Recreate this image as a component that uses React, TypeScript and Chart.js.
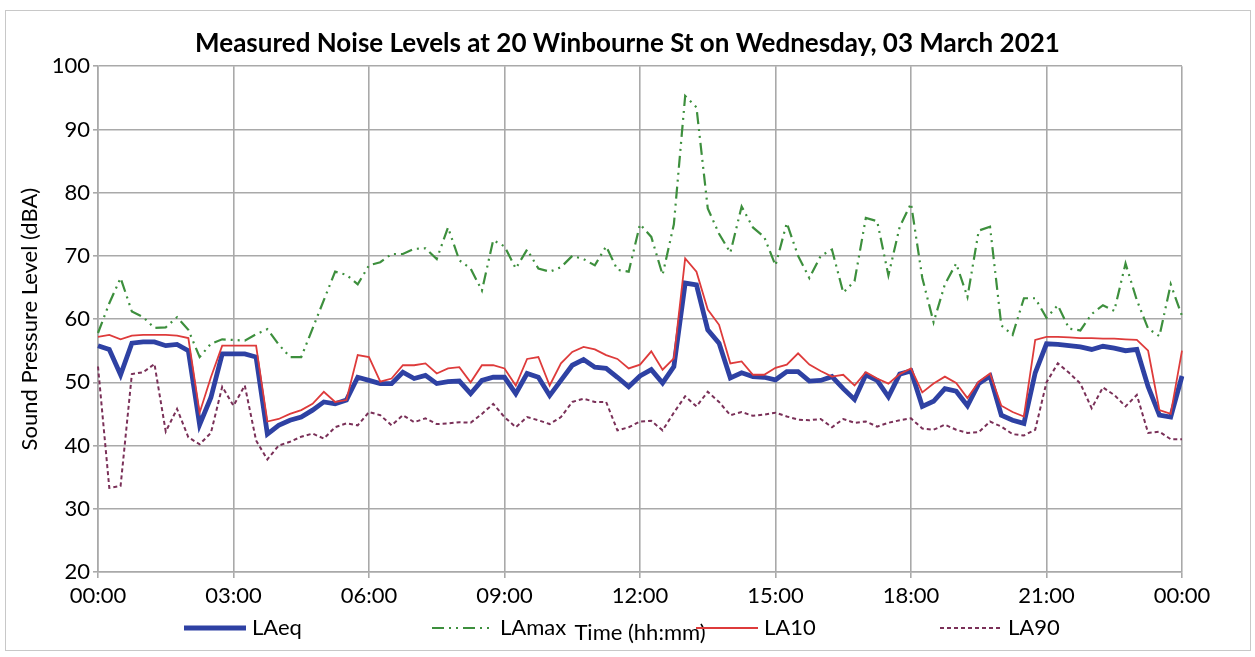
import React, { useEffect, useRef } from "react";
import { Chart, registerables } from "chart.js";

Chart.register(...registerables);

// 15-minute intervals across the day (97 samples, 00:00 .. 00:00)
const TIMES: string[] = [];
for (let i = 0; i <= 96; i++) {
  const m = i * 15;
  const h = Math.floor(m / 60) % 24;
  const mm = m % 60;
  TIMES.push(String(h).padStart(2, "0") + ":" + String(mm).padStart(2, "0"));
}

const TICK_LABELS = ["00:00", "03:00", "06:00", "09:00", "12:00", "15:00", "18:00", "21:00", "00:00"];
const Y_TICKS = [20, 30, 40, 50, 60, 70, 80, 90, 100];

const LAEQ = [
  55.8, 55.2, 51.2, 56.2, 56.4, 56.4, 55.8, 56.0, 55.0, 43.3, 47.6, 54.5, 54.5, 54.5, 54.0, 41.8,
  43.2, 44.0, 44.5, 45.6, 46.9, 46.6, 47.2, 50.8, 50.3, 49.8, 49.8, 51.6, 50.6, 51.1, 49.8, 50.1,
  50.2, 48.2, 50.3, 50.8, 50.8, 48.2, 51.4, 50.8, 47.9, 50.3, 52.7, 53.6, 52.4, 52.2, 50.8, 49.3,
  51.0, 52.0, 49.9, 52.5, 65.7, 65.4, 58.3, 56.2, 50.7, 51.5, 50.9, 50.8, 50.4, 51.7, 51.7, 50.2,
  50.3, 50.9, 49.0, 47.3, 51.2, 50.3, 47.7, 51.3, 51.8, 46.2, 47.0, 49.0, 48.6, 46.3, 49.8, 51.0,
  44.8, 44.0, 43.5, 51.5, 56.1, 56.0, 55.8, 55.6, 55.2, 55.7, 55.4, 55.0, 55.2, 49.3, 44.8, 44.5,
  51.0,
];

const LAMAX = [
  57.8, 62.5, 66.5, 61.2, 60.3, 58.6, 58.7, 60.3, 58.3, 54.0, 56.1, 56.8, 56.7, 56.6, 57.6, 58.4,
  56.0, 54.0, 54.0, 58.5, 63.0, 67.5, 67.0, 65.5, 68.5, 69.0, 70.3, 70.3, 71.1, 71.2, 69.5, 74.5,
  69.3, 68.0, 64.5, 72.5, 71.5, 68.0, 71.0, 68.0, 67.5, 68.2, 70.0, 69.5, 68.5, 71.5, 67.8, 67.5,
  75.0, 73.0, 67.0, 75.0, 95.3, 93.5, 77.5, 73.5, 70.5, 77.8, 74.5, 73.0, 68.5, 75.2, 70.0, 66.5,
  70.0, 71.0, 64.2, 66.0, 76.0, 75.5, 66.9, 74.6, 78.3, 66.5, 59.5, 65.5, 68.8, 63.5, 74.0, 74.6,
  59.0, 57.5, 63.3, 63.3, 60.2, 62.2, 58.5, 58.2, 60.8, 62.2, 61.3, 68.8, 63.0, 58.5, 57.3, 65.5,
  60.5,
];

const LA10 = [
  57.2, 57.5, 56.8, 57.4, 57.5, 57.5, 57.5, 57.4, 57.0, 45.2, 50.8, 55.8, 55.8, 55.8, 55.8, 43.8,
  44.2, 45.0, 45.6, 46.6, 48.5, 46.9, 47.2, 54.3, 54.0, 50.1, 50.6, 52.7, 52.7, 53.0, 51.4, 52.2,
  52.4, 50.0, 52.7, 52.7, 52.2, 49.5, 53.7, 54.0, 49.5, 53.0, 54.8, 55.6, 55.2, 54.3, 53.7, 52.2,
  52.8, 54.9, 52.0, 53.8, 69.6, 67.5, 61.5, 59.1, 53.0, 53.3, 51.2, 51.2, 52.3, 52.8, 54.6, 52.8,
  51.8, 50.9, 51.2, 49.5, 51.6, 50.6, 49.8, 51.3, 52.2, 48.4, 49.8, 50.9, 49.9, 47.5, 50.1, 51.4,
  46.3, 45.3, 44.6, 56.7, 57.2, 57.2, 57.1, 57.0, 57.0, 56.9, 56.9, 56.8, 56.7, 55.0, 45.6, 45.0,
  55.0,
];

const LA90 = [
  52.5, 33.3, 33.6, 51.3, 51.6, 52.9, 42.2, 45.8, 41.3, 40.2, 42.0, 49.3, 46.3, 49.5, 40.8, 37.8,
  40.0, 40.6, 41.4, 41.9, 41.1, 42.9, 43.5, 43.2, 45.3, 44.8, 43.2, 44.8, 43.7, 44.3, 43.4, 43.5,
  43.7, 43.6, 45.0, 46.6, 44.5, 42.9, 44.5, 44.0, 43.4, 44.5, 46.9, 47.4, 46.9, 46.9, 42.4, 42.9,
  43.8, 43.9, 42.4, 45.2, 47.8, 46.2, 48.5, 46.9, 44.8, 45.3, 44.7, 44.9, 45.2, 44.6, 44.1, 44.0,
  44.2, 42.9, 44.2, 43.6, 43.8, 43.0, 43.6, 44.0, 44.3, 42.7, 42.5, 43.3, 42.5, 42.0, 42.1, 43.8,
  43.0, 41.8, 41.6, 42.5, 50.0, 53.0, 51.5, 49.8, 45.9, 49.2, 48.0, 46.2, 48.0, 42.0, 42.2, 41.0,
  41.0,
];

const FONT = "Lato, 'Open Sans', sans-serif";
const GRID = "#a9a9a9";

const legendPlugin = {
  id: "bottomLegend",
  afterDraw(chart: any) {
    const ctx = chart.ctx as CanvasRenderingContext2D;
    const xs = [184, 432, 696, 940];
    const y = 628;
    chart.data.datasets.forEach((ds: any, i: number) => {
      const x0 = xs[i];
      ctx.save();
      ctx.strokeStyle = ds.borderColor;
      ctx.lineWidth = ds.borderWidth;
      ctx.setLineDash(ds.borderDash || []);
      ctx.beginPath();
      ctx.moveTo(x0, y);
      ctx.lineTo(x0 + 62, y);
      ctx.stroke();
      ctx.setLineDash([]);
      ctx.fillStyle = "#000";
      ctx.font = `22px ${FONT}`;
      ctx.textBaseline = "middle";
      ctx.textAlign = "left";
      ctx.fillText(ds.label, x0 + 68, y);
      ctx.restore();
    });
  },
};

export default function App() {
  const ref = useRef<HTMLCanvasElement | null>(null);

  useEffect(() => {
    if (!ref.current) return;
    const chart = new Chart(ref.current, {
      type: "line",
      data: {
        labels: TIMES,
        datasets: [
          { label: "LAeq", data: LAEQ, borderColor: "#2e41a3", borderWidth: 4.8, pointRadius: 0, tension: 0, order: 4, yAxisID: "y" },
          { label: "LAmax", data: LAMAX, borderColor: "#3d8f3d", borderWidth: 2.2, borderDash: [12, 5, 2, 5, 2, 5], pointRadius: 0, tension: 0, order: 3, yAxisID: "y" },
          { label: "LA10", data: LA10, borderColor: "#de3b3b", borderWidth: 1.8, pointRadius: 0, tension: 0, order: 2, yAxisID: "y" },
          { label: "LA90", data: LA90, borderColor: "#7a3058", borderWidth: 2, borderDash: [4, 3], pointRadius: 0, tension: 0, order: 1, yAxisID: "y" },
        ],
      },
      options: {
        responsive: false,
        animation: false,
        devicePixelRatio: 1,
        layout: { padding: { left: 10, right: 10, top: 0, bottom: 8 } },
        plugins: {
          legend: { display: false },
          tooltip: { enabled: false },
          title: {
            display: true,
            text: "Measured Noise Levels at 20 Winbourne St on Wednesday, 03 March 2021",
            color: "#000",
            font: { family: FONT, size: 26, weight: "bold" },
            padding: { top: 28, bottom: 7 },
          },
        },
        scales: {
          x: {
            afterFit: (s: any) => { s.height = 77; },
            grid: { color: GRID, lineWidth: 1.6, tickColor: GRID, tickLength: 6 },
            border: { color: GRID, width: 1.6 },
            ticks: {
              autoSkip: false,
              maxRotation: 0,
              color: "#000",
              padding: 5,
              font: { family: FONT, size: 22 },
              callback: (_v: any, idx: number) => (idx % 12 === 0 ? TICK_LABELS[idx / 12] : null),
            },
            title: {
              display: true,
              text: "Time (hh:mm)",
              color: "#000",
              font: { family: FONT, size: 22 },
              padding: { top: 0, bottom: 3 },
            },
          },
          y: {
            min: 20,
            max: 100,
            afterFit: (s: any) => { s.width = 88; },
            afterBuildTicks: (s: any) => { s.ticks = Y_TICKS.map((v) => ({ value: v })); },
            grid: { color: GRID, lineWidth: 1.6, tickColor: GRID, tickLength: 5 },
            border: { color: GRID, width: 1.6 },
            ticks: { color: "#000", padding: 3, font: { family: FONT, size: 22 } },
            title: {
              display: true,
              text: "Sound Pressure Level (dBA)",
              color: "#000",
              font: { family: FONT, size: 22 },
              padding: 7,
            },
          },
          spacer: {
            position: "right",
            display: true,
            min: 20,
            max: 100,
            afterFit: (s: any) => { s.width = 63; },
            grid: { display: false, drawOnChartArea: false },
            border: { display: false },
            ticks: { display: false },
          },
        },
      },
      plugins: [legendPlugin],
    });
    return () => chart.destroy();
  }, []);

  return (
    <div style={{ position: "fixed", left: 0, top: 0, width: 1255, height: 657, background: "#fff" }}>
      <div style={{ position: "absolute", left: 5, top: 10, width: 1244, height: 639, border: "1px solid #c8c8c8" }} />
      <canvas ref={ref} width={1255} height={657} style={{ position: "absolute", left: 0, top: 0 }} />
    </div>
  );
}
